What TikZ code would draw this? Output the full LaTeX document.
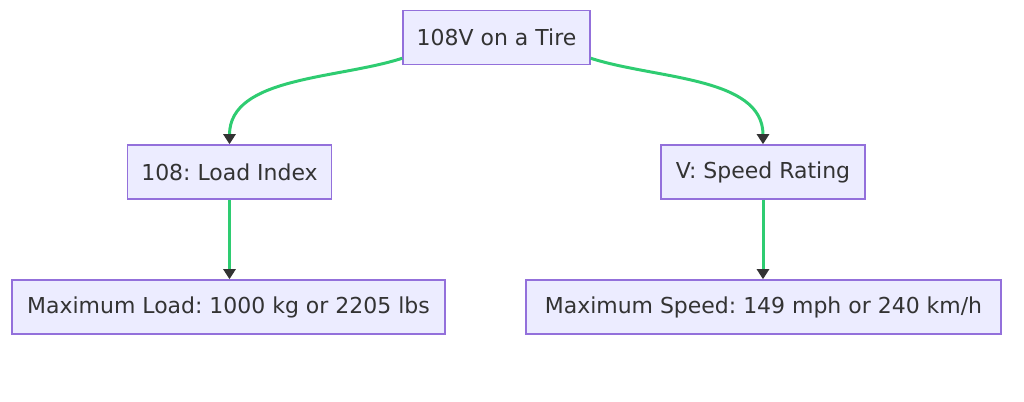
\documentclass[tikz,border=0pt]{standalone}
\usepackage{fontspec}
\setmainfont{DejaVu Sans}
\usetikzlibrary{arrows.meta}
\definecolor{BoxFill}{RGB}{236,236,255}
\definecolor{BoxLine}{RGB}{147,112,219}
\definecolor{EdgeGreen}{RGB}{46,204,113}
\definecolor{TipDark}{RGB}{51,51,51}
\frenchspacing

\begin{document}
\begin{tikzpicture}[x=0.02cm,y=-0.02cm,
    box/.style={draw=BoxLine,fill=BoxFill,line width=0.9pt,minimum height=1.08cm,
      inner sep=0pt,font=\fontsize{12.5}{15}\selectfont,text=TipDark},
    link/.style={EdgeGreen,line width=1.7pt,
      -{Triangle[length=0.2cm,width=0.24cm,color=TipDark]}}]
  \useasboundingbox (0,0) rectangle (1024,402);
  \node[box,minimum width=3.74cm] (tire) at (496.5,37.5) {108V on a Tire};
  \node[box,minimum width=4.08cm] (load) at (229.5,172) {108: Load Index};
  \node[box,minimum width=4.08cm] (speed) at (763,172) {V: Speed Rating};
  \node[box,minimum width=8.66cm] (maxload) at (228.5,307) {Maximum Load: 1000 kg or 2205 lbs};
  \node[box,minimum width=9.5cm] (maxspeed) at (763.5,307) {Maximum Speed: 149 mph or 240 km/h};
  \draw[link] ([yshift=4pt]tire.south west) to[out=198,in=90,looseness=0.9] (load.north);
  \draw[link] ([yshift=4pt]tire.south east) to[out=-18,in=90,looseness=0.9] (speed.north);
  \draw[link] (load.south) -- (load.south |- maxload.north);
  \draw[link] (speed.south) -- (speed.south |- maxspeed.north);
\end{tikzpicture}
\end{document}
